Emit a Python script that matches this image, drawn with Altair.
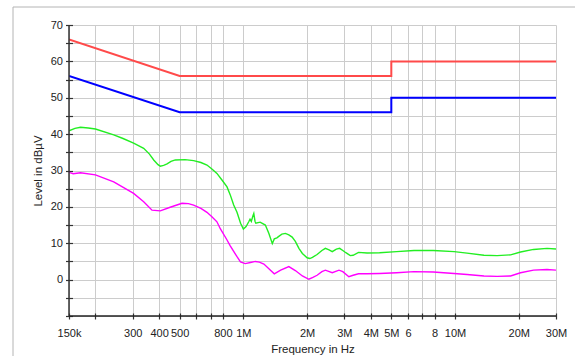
import altair as alt
import pandas as pd

# ---- data ----
limit_red_f = [150000, 500000, 5000000, 5000000, 30000000]
limit_red_v = [66, 56, 56, 60, 60]
limit_blue_f = [150000, 500000, 5000000, 5000000, 30000000]
limit_blue_v = [56, 46, 46, 50, 50]

green_f_khz = [150, 160, 170, 185, 200, 244, 270, 303, 338, 360, 377, 395, 405, 420, 436,
               455, 477, 530, 582, 630, 673, 710, 750, 792, 837, 867, 900, 933, 970, 1000,
               1030, 1060, 1075, 1090, 1110, 1120, 1135, 1145, 1200, 1270, 1320, 1370, 1400,
               1440, 1470, 1520, 1580, 1640, 1700, 1760, 1830, 1900, 2000, 2060, 2120, 2230,
               2350, 2440, 2540, 2630, 2750, 2850, 2950, 3050, 3200, 3300, 3500, 3840, 4400,
               5300, 6400, 7900, 9900, 11400, 13700, 15800, 18300, 20400, 23500, 27200, 30000]
green_v = [40.9, 41.6, 41.9, 41.7, 41.4, 39.8, 38.8, 37.5, 36.1, 34.5, 32.9, 31.6, 31.2, 31.4, 31.8,
           32.5, 32.9, 33.0, 32.7, 32.2, 31.5, 30.4, 29.2, 27.4, 25.5, 23.3, 20.5, 18.5, 15.5, 13.9,
           14.6, 15.9, 16.6, 16.0, 17.6, 18.2, 16.0, 15.5, 15.8, 15.0, 12.7, 9.9, 11.2,
           11.5, 11.9, 12.5, 12.7, 12.3, 11.7, 10.5, 8.6, 7.2, 6.0, 5.8, 6.1, 6.9,
           8.0, 8.6, 8.2, 7.7, 8.4, 8.6, 8.0, 7.4, 6.6, 6.7, 7.5, 7.3, 7.4,
           7.7, 8.0, 8.0, 7.7, 7.3, 6.7, 6.6, 6.8, 7.6, 8.3, 8.6, 8.4]

magenta_f_khz = [150, 157, 170, 200, 244, 303, 338, 370, 405, 451, 513, 550, 582, 630, 673,
                 710, 750, 778, 837, 867, 933, 969, 1020, 1080, 1140, 1190, 1250, 1320, 1400,
                 1500, 1640, 1760, 1900, 2040, 2130, 2230, 2350, 2440, 2630, 2830, 2950, 3150,
                 3300, 3500, 3840, 4400, 5300, 6400, 7900, 9900, 11400, 13700, 15800, 18300,
                 20400, 23500, 27200, 30000]
magenta_v = [29.5, 29.1, 29.4, 28.8, 26.9, 23.7, 21.4, 19.1, 18.9, 19.9, 21.0, 20.9, 20.5, 19.6, 18.5,
             17.3, 15.9, 14.0, 10.9, 9.3, 6.3, 4.9, 4.4, 4.7, 5.0, 4.8, 4.3, 3.0, 1.6,
             2.6, 3.6, 2.5, 1.0, 0.1, 0.6, 1.2, 2.2, 2.6, 1.9, 2.6, 2.2, 0.8,
             1.2, 1.6, 1.6, 1.7, 1.9, 2.2, 2.1, 1.7, 1.4, 1.0, 0.9, 1.0,
             1.9, 2.6, 2.8, 2.6]

x_tick_values = [150000, 200000, 300000, 400000, 500000, 600000, 700000, 800000, 1000000,
                 2000000, 3000000, 4000000, 5000000, 6000000, 7000000, 8000000, 10000000,
                 20000000, 30000000]
x_tick_labels = ["150k", "", "300", "400", "500", "", "", "800", "1M",
                 "2M", "3M", "4M", "5M", "6", "", "8", "10M", "20M", "30M"]
y_tick_values = list(range(-10, 71, 5))

# ---- frames ----
def series_df(f, v, name):
    return pd.DataFrame({"f": f, "v": v, "s": name, "i": range(len(f))})

red_df = series_df(limit_red_f, limit_red_v, "red")
blue_df = series_df(limit_blue_f, limit_blue_v, "blue")
green_df = series_df([k * 1000 for k in green_f_khz], green_v, "green")
mag_df = series_df([k * 1000 for k in magenta_f_khz], magenta_v, "magenta")

W, H = 487, 291
FONT = "Liberation Sans"

label_expr = " : ".join(
    f"datum.value == {v} ? '{l}'" for v, l in zip(x_tick_values, x_tick_labels)
) + " : ''"

xscale = alt.Scale(type="log", domain=[150000, 30000000], nice=False)
yscale = alt.Scale(domain=[-10, 70], nice=False, zero=False)

xaxis = alt.Axis(values=x_tick_values, labelExpr=label_expr, grid=True, gridColor="#cccccc",
                 gridWidth=1, domain=False, offset=-3, tickSize=6, tickColor="#333333",
                 tickWidth=1.2, labelFlush=False, labelOverlap=False, labelPadding=8,
                 labelFont=FONT, labelFontSize=11, labelColor="#222222",
                 title="Frequency in Hz", titleFont=FONT, titleFontSize=11.5,
                 titleFontWeight="normal", titleColor="#222222", titlePadding=5)
yaxis = alt.Axis(values=y_tick_values,
                 labelExpr="(datum.value % 10 == 0 && datum.value >= 0) ? datum.value : ''",
                 grid=True, gridColor="#cccccc", gridWidth=1, domain=False, offset=-3.5,
                 tickSize=7, tickColor="#333333", tickWidth=1.2, labelPadding=3,
                 labelOverlap=False, labelFont=FONT, labelFontSize=11, labelColor="#222222",
                 title="Level in dBµV", titleFont=FONT, titleFontSize=11.5,
                 titleFontWeight="normal", titleColor="#222222", titlePadding=7)

def line(df, color, width):
    return alt.Chart(df).mark_line(color=color, strokeWidth=width, clip=True).encode(
        x=alt.X("f:Q", scale=xscale, axis=xaxis, title="Frequency in Hz"),
        y=alt.Y("v:Q", scale=yscale, axis=yaxis, title="Level in dBµV"),
        order="i:Q",
    )

one = pd.DataFrame({"a": [0]})
frame = alt.Chart(one).mark_rect(fill="white", fillOpacity=0, stroke="#b4b4b4",
                                 strokeWidth=1).encode(
    x=alt.value(-56), x2=alt.value(W + 40), y=alt.value(-18), y2=alt.value(H + 60))
left_dom = alt.Chart(one).mark_rule(color="#333333", strokeWidth=1.5).encode(
    x=alt.value(0), y=alt.value(0), y2=alt.value(H))
bottom_dom = alt.Chart(one).mark_rule(color="#222222", strokeWidth=1.5).encode(
    x=alt.value(0), x2=alt.value(W), y=alt.value(H))

chart = alt.layer(
    line(red_df, "#ff4a4a", 2),
    line(blue_df, "#0000ff", 2),
    line(green_df, "#22ee22", 1.4),
    line(mag_df, "#ff00ff", 1.4),
    left_dom, bottom_dom, frame,
).properties(
    width=W, height=H, autosize=alt.AutoSizeParams(type="none"),
    padding={"left": 69, "top": 25, "right": 19, "bottom": 40},
    background="white",
).configure_view(strokeWidth=0)

chart.save("out.html", embed_options={"renderer": "svg", "actions": False})
